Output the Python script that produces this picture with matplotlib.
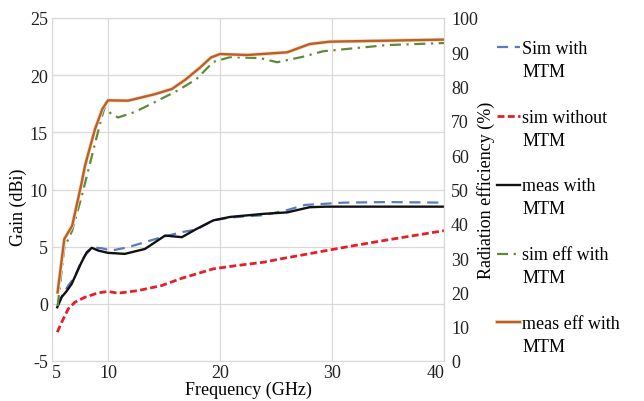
import matplotlib
matplotlib.use('Agg')
import matplotlib.pyplot as plt
import matplotlib.patheffects as pe

plt.rcParams['font.family'] = ['Liberation Serif', 'DejaVu Serif']
plt.rcParams['axes.unicode_minus'] = False

# gain curves (dBi)
freq_sim_mtm = [5.5, 5.9, 6.45, 7.0, 7.65, 8.0, 8.5, 9.0, 9.4, 10.3, 11.8, 13.3, 14.8, 16.6,
                17.9, 19.4, 20.9, 22.5, 23.9, 26.0, 27.6, 29.2, 31.0, 35.0, 40.0]
gain_sim_mtm = [-0.1, 0.7, 1.6, 2.3, 3.8, 4.3, 4.8, 4.9, 4.87, 4.66, 4.95, 5.4, 5.83, 6.27,
                6.5, 7.3, 7.55, 7.67, 7.75, 8.2, 8.65, 8.74, 8.85, 8.9, 8.85]

freq_sim_no = [5.47, 5.87, 6.45, 7.05, 7.95, 9.13, 10.0, 10.9, 12.7, 14.8, 16.6, 19.4, 21.5,
               23.9, 25.4, 27.5, 29.5, 32.0, 35.0, 40.0]
gain_sim_no = [-2.48, -1.6, -0.44, 0.15, 0.58, 0.96, 1.08, 0.93, 1.16, 1.6, 2.24, 3.06, 3.35,
               3.64, 3.93, 4.3, 4.66, 5.1, 5.6, 6.4]

freq_meas = [5.47, 5.87, 6.3, 6.76, 7.2, 7.65, 8.1, 8.55, 9.13, 10.0, 11.5, 13.3, 15.1, 16.6,
             17.9, 19.4, 20.9, 23.9, 26.0, 28.0, 29.5, 35.0, 40.0]
gain_meas = [-0.3, 0.6, 1.1, 1.75, 2.7, 3.67, 4.5, 4.9, 4.66, 4.46, 4.37, 4.8, 5.97, 5.83,
             6.55, 7.3, 7.6, 7.87, 8.0, 8.45, 8.5, 8.5, 8.5]

# radiation efficiency (%)
freq_sim_eff = [5.5, 6.1, 6.8, 7.65, 8.5, 9.4, 9.7, 10.3, 10.9, 12.4, 14.2, 16.3, 17.9, 19.4,
                20.9, 23.6, 25.1, 27.4, 29.2, 34.9, 40.0]
eff_sim = [16, 33, 38, 48, 59, 70.6, 74, 72, 71, 72.6, 75.5, 79, 82.2, 87.2,
           88.6, 88.3, 87.1, 88.7, 90.3, 92.1, 92.7]

freq_meas_eff = [5.5, 6.1, 6.8, 7.65, 7.95, 8.84, 9.5, 10.0, 11.8, 14.2, 15.7, 16.9, 18.2,
                 19.2, 20.0, 22.4, 26.0, 28.0, 29.8, 35.0, 40.0]
eff_meas = [20, 35.6, 39.4, 52, 57, 67.6, 73.5, 76, 75.9, 77.8, 79.3, 82, 85.5,
            88.5, 89.5, 89.2, 90, 92.4, 93.1, 93.4, 93.7]

x_ticks = [5, 10, 20, 30, 40]
labels = ['Sim with\nMTM', 'sim without\nMTM', 'meas with\nMTM', 'sim eff with\nMTM',
          'meas eff with\nMTM']

grid_c = '#d9d9d9'
fs = 13

fig = plt.figure(figsize=(6.44, 4.02), dpi=100)
ax = fig.add_axes([52 / 644, 40 / 402, 392 / 644, 343 / 402])
ax2 = ax.twinx()

l1, = ax.plot(freq_sim_mtm, gain_sim_mtm, color='#5b7bbf', lw=1.6, dashes=(5, 3))
l2, = ax.plot(freq_sim_no, gain_sim_no, color='#e3202a', lw=2.0, dashes=(2.5, 1.2))
l3, = ax.plot(freq_meas, gain_meas, color='#111111', lw=1.7)

l4, = ax2.plot(freq_sim_eff, eff_sim, color='#5f8a3a', lw=1.6, dashes=(5, 2.5, 1, 2.5))
l5, = ax2.plot(freq_meas_eff, eff_meas, color='#b8602a', lw=1.7,
               path_effects=[pe.Stroke(linewidth=2.8, foreground='#f8dcc0'), pe.Normal()])

ax.set_xlim(5, 40)
ax.set_ylim(-5, 25)
ax2.set_ylim(0, 100)
ax.set_xticks(x_ticks)
ax.set_yticks(range(-5, 26, 5))
ax2.set_yticks(range(0, 101, 10))

ax.grid(True, color=grid_c, lw=0.9)
ax.set_axisbelow(True)
for a in (ax, ax2):
    for s in a.spines.values():
        s.set_color(grid_c)
    a.tick_params(length=0, labelsize=fs, colors='#222222')
ax.tick_params(axis='y', pad=3)
ax.tick_params(axis='x', pad=2)
ax2.tick_params(axis='y', pad=5)
xt = ax.get_xticklabels()
xt[0].set_ha('left')
xt[-1].set_ha('right')

ax.set_xlabel('Frequency (GHz)', fontsize=fs, labelpad=0)
ax.set_ylabel('Gain (dBi)', fontsize=fs)
ax.yaxis.set_label_coords(-0.065, 0.45)
ax2.set_ylabel('Radiation efficiency (%)', fontsize=fs)
ax2.yaxis.set_label_coords(1.085, 0.5)

leg = fig.legend([l1, l2, l3, l4, l5], labels, loc='upper left',
                 bbox_to_anchor=(497 / 644, 1 - 41 / 402), frameon=False, fontsize=fs,
                 handlelength=1.3, handleheight=1.1, handletextpad=0.1, labelspacing=1.6,
                 borderpad=0, borderaxespad=0)
for t in leg.get_texts():
    t.set_multialignment('left')
    t.set_linespacing(1.45)
# put each handle next to the first line of its two-line label
for col in leg._legend_handle_box.get_children():
    col.align = 'left'
    for row in col.get_children():
        row.align = 'top'

fig.savefig('out.png', dpi=100)
